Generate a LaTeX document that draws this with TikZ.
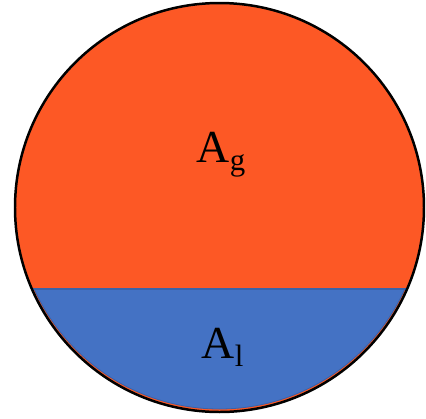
\documentclass[tikz,border=0pt]{standalone}
\usepackage{fontspec}
\setmainfont{Liberation Serif}
\definecolor{gasor}{HTML}{FD5825}
\definecolor{liqbl}{HTML}{4472C4}
\definecolor{liqedge}{HTML}{3A62A8}
\newcommand{\subtxt}[1]{\raisebox{-8bp}{\fontsize{31}{31}\selectfont #1}}
\begin{document}
\begin{tikzpicture}[x=1bp,y=-1bp,
  lbl/.style={anchor=base,inner sep=0pt,font=\fontsize{46}{46}\selectfont}]
\useasboundingbox (0,0) rectangle (426,419);
\fill[gasor] (219.5,207.5) circle (204.5);
\begin{scope}
  \clip (0,289) rectangle (426,419);
  \fill[liqbl] (219.5,206) circle (203);
  \draw[liqedge,line width=0.8] (219.5,206) circle (203);
\end{scope}
\begin{scope}
  \clip (219.5,207.5) circle (204.5);
  \draw[liqedge,line width=1.5] (0,289) -- (426,289);
\end{scope}
\draw[black,line width=2.5] (219.5,207.5) circle (204.5);
\node[lbl] (ag) at (221,162) {A\subtxt{g}};
\node[lbl] (al) at (222.5,358) {A\subtxt{l}};
\end{tikzpicture}
\end{document}
